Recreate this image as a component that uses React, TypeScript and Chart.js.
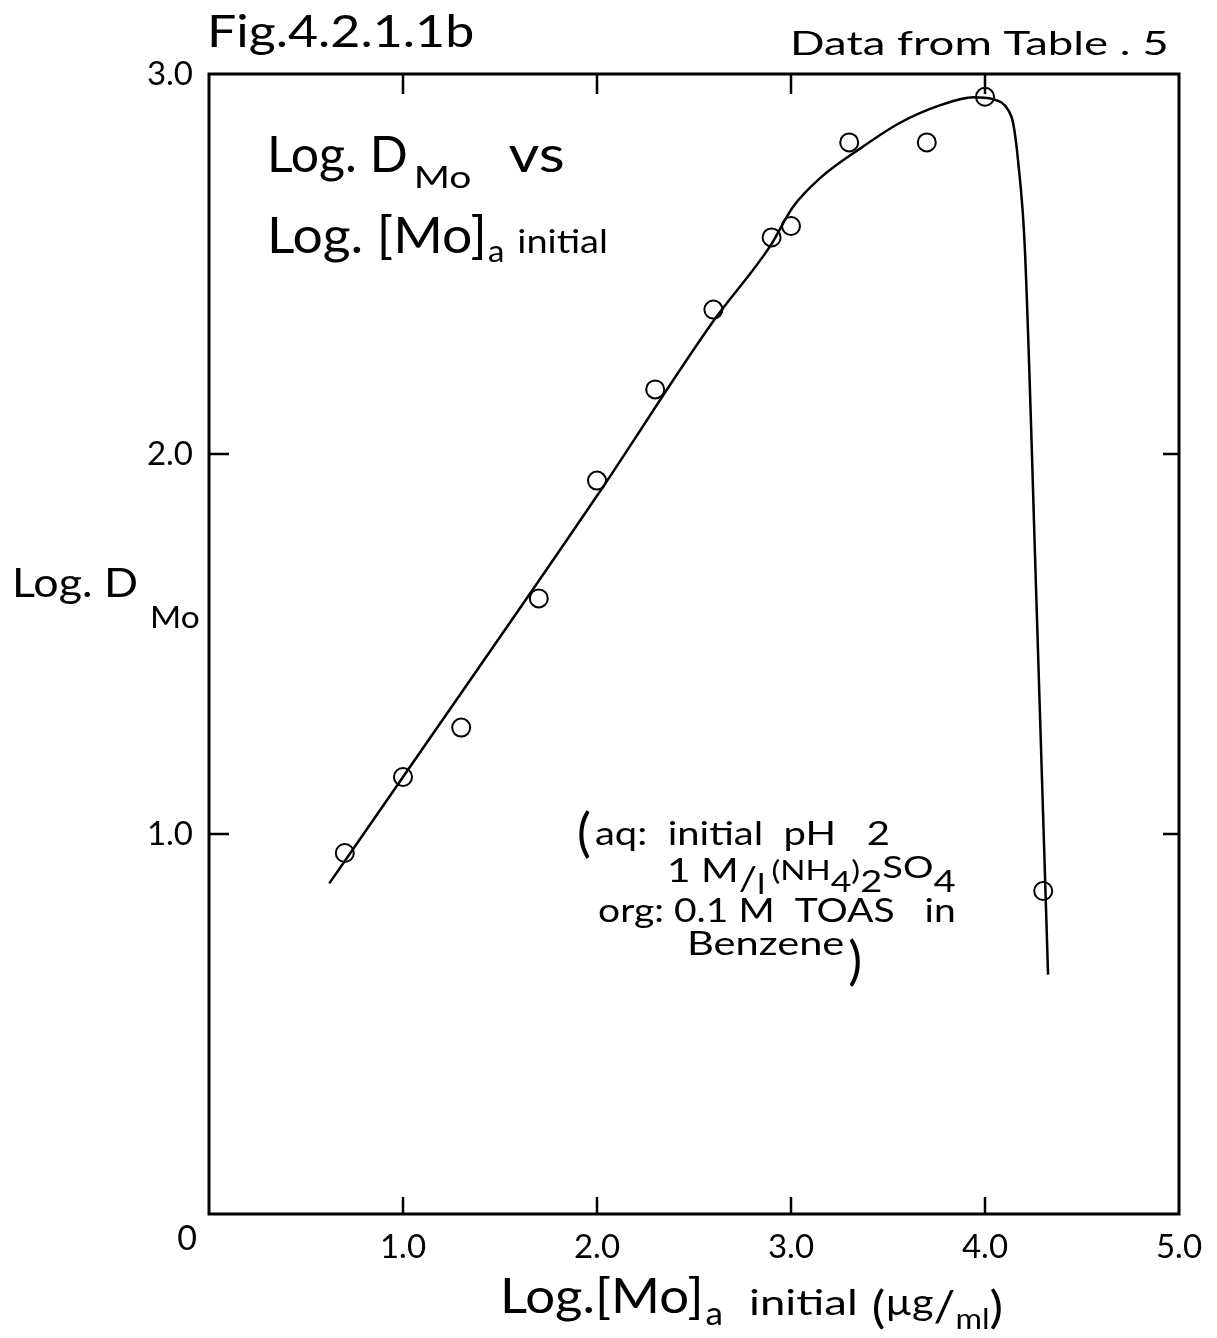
import { useEffect, useRef } from 'react';
import { Chart, registerables } from 'chart.js';

Chart.register(...registerables);

// Measured points (open circles)
const measuredX = [0.7, 1.0, 1.3, 1.7, 2.0, 2.3, 2.6, 2.9, 3.0, 3.3, 3.7, 4.0, 4.3];
const measuredY = [0.95, 1.15, 1.28, 1.62, 1.93, 2.17, 2.38, 2.57, 2.6, 2.82, 2.82, 2.94, 0.85];

// Hand-drawn fitted curve
const curveX = [0.62, 1.0, 2.0, 2.6, 2.89, 3.01, 3.15, 3.36, 3.56, 3.77, 3.94, 4.04, 4.12, 4.145, 4.17, 4.205, 4.265, 4.325];
const curveY = [0.87, 1.15, 1.89, 2.35, 2.545, 2.65, 2.726, 2.805, 2.871, 2.918, 2.939, 2.934, 2.905, 2.871, 2.774, 2.545, 1.616, 0.63];

const xTicks = [0, 1, 2, 3, 4, 5];
const xTickLabels = ['0', '1.0', '2.0', '3.0', '4.0', '5.0'];
const yTicks = [0, 1, 2, 3];
const yTickLabels = ['0', '1.0', '2.0', '3.0'];

const FONT = 'Lato, "DejaVu Sans", sans-serif';

type Run = { t: string; size: number; dy?: number; dx?: number; sx?: number };

function drawRuns(ctx: CanvasRenderingContext2D, x: number, y: number, runs: Run[], sxAll = 1) {
  let cx = x;
  for (const r of runs) {
    const sx = r.sx ?? sxAll;
    ctx.font = `${r.size}px ${FONT}`;
    cx += r.dx || 0;
    ctx.save();
    ctx.translate(cx, y + (r.dy || 0));
    ctx.scale(sx, 1);
    ctx.fillText(r.t, 0, 0);
    ctx.restore();
    cx += ctx.measureText(r.t).width * sx;
  }
}

const framePlugin = {
  id: 'framePlugin',
  afterDraw(chart: any) {
    const { ctx, chartArea } = chart;
    const { left, right, top, bottom } = chartArea;
    const xs = chart.scales.x;
    const ys = chart.scales.y;
    ctx.save();
    ctx.strokeStyle = '#000';
    ctx.fillStyle = '#000';
    ctx.lineWidth = 3;
    ctx.strokeRect(left, top, right - left, bottom - top);
    ctx.lineWidth = 2.5;
    ctx.beginPath();
    for (const v of xTicks) {
      if (v === xTicks[0] || v === xTicks[xTicks.length - 1]) continue;
      const px = xs.getPixelForValue(v);
      ctx.moveTo(px, bottom);
      ctx.lineTo(px, bottom - 17);
      ctx.moveTo(px, top);
      ctx.lineTo(px, top + 20);
    }
    for (const v of yTicks) {
      if (v === yTicks[0] || v === yTicks[yTicks.length - 1]) continue;
      const py = ys.getPixelForValue(v);
      ctx.moveTo(left, py);
      ctx.lineTo(left + 20, py);
      ctx.moveTo(right, py);
      ctx.lineTo(right - 16, py);
    }
    ctx.stroke();

    ctx.textBaseline = 'alphabetic';
    ctx.textAlign = 'center';
    ctx.font = `34px ${FONT}`;
    ctx.fillText(xTickLabels[0], xs.getPixelForValue(0) - 22, bottom + 36);

    ctx.textAlign = 'left';
    // Figure number
    drawRuns(ctx, 207, 47, [{ t: 'Fig.4.2.1.1b', size: 44 }], 1.18);
    // Source note
    drawRuns(ctx, 790, 55, [{ t: 'Data from Table . 5', size: 33 }], 1.38);

    // Inner title
    drawRuns(ctx, 267, 172, [
      { t: 'Log. D', size: 50, sx: 1.0 },
      { t: 'Mo', size: 30, dy: 16, dx: 6, sx: 1.3 },
      { t: 'vs', size: 50, dx: 37, sx: 1.2 },
    ]);
    drawRuns(ctx, 267, 253, [
      { t: 'Log. [Mo]', size: 50, sx: 1.07 },
      { t: 'a', size: 30, dy: 9, dx: 1, sx: 1.1 },
      { t: 'initial', size: 33, dx: 13, sx: 1.15 },
    ]);

    // Y axis title
    drawRuns(ctx, 12, 597, [
      { t: 'Log. D', size: 40 },
      { t: 'Mo', size: 30, dy: 31, dx: 12 },
    ], 1.12);

    // X axis title
    drawRuns(ctx, 500, 1313, [
      { t: 'Log.[Mo]', size: 48, sx: 1.1 },
      { t: 'a', size: 32, dy: 12, dx: 2, sx: 1.1 },
      { t: 'initial', size: 35, dx: 26, dy: 2, sx: 1.3 },
      { t: '(', size: 44, dx: 14, dy: 10, sx: 1.15 },
      { t: 'µg', size: 36, dy: 2, sx: 1.15 },
      { t: '/', size: 42, dy: 8, sx: 1.15 },
      { t: 'ml', size: 28, dy: 16, sx: 1.15 },
      { t: ')', size: 44, dy: 10, sx: 1.15 },
    ]);

    // Conditions note
    drawRuns(ctx, 577, 845, [
      { t: '(', size: 52, dy: 6, sx: 1.0 },
      { t: 'aq:  initial  pH   2', size: 32, dx: 4, sx: 1.25 },
    ]);
    drawRuns(ctx, 667, 882, [
      { t: '1 M', size: 32 },
      { t: '/', size: 32, dy: 8 },
      { t: 'l', size: 28, dy: 12 },
      { t: '(NH', size: 26, dx: 6, dy: -2 },
      { t: '4', size: 28, dy: 10 },
      { t: ')', size: 26, dy: -2 },
      { t: '2', size: 30, dy: 10 },
      { t: 'SO', size: 30, dy: -4 },
      { t: '4', size: 30, dy: 10 },
    ], 1.27);
    drawRuns(ctx, 598, 922, [{ t: 'org: 0.1 M  TOAS   in', size: 32 }], 1.22);
    drawRuns(ctx, 687, 955, [
      { t: 'Benzene', size: 32, sx: 1.3 },
      { t: ')', size: 52, dx: 4, dy: 24, sx: 1.0 },
    ]);
    ctx.restore();
  },
};

export default function App() {
  const ref = useRef<HTMLCanvasElement | null>(null);
  useEffect(() => {
    if (!ref.current) return;
    const chart = new Chart(ref.current, {
      type: 'scatter',
      data: {
        datasets: [
          {
            label: 'Fitted curve',
            data: curveX.map((x, i) => ({ x, y: curveY[i] })),
            showLine: true,
            borderColor: '#000',
            borderWidth: 2.5,
            pointRadius: 0,
            cubicInterpolationMode: 'monotone',
            fill: false,
          } as any,
          {
            label: 'Measured',
            data: measuredX.map((x, i) => ({ x, y: measuredY[i] })),
            showLine: false,
            pointStyle: 'circle',
            pointRadius: 9,
            pointBorderWidth: 2,
            pointBorderColor: '#000',
            pointBackgroundColor: 'rgba(0,0,0,0)',
          } as any,
        ],
      },
      options: {
        animation: false,
        responsive: false,
        devicePixelRatio: 1,
        layout: { padding: { top: 74, right: 38, left: 0, bottom: 0 } },
        plugins: { legend: { display: false }, tooltip: { enabled: false }, title: { display: false } },
        scales: {
          x: {
            type: 'linear',
            min: 0,
            max: 5,
            afterBuildTicks: (s: any) => { s.ticks = xTicks.map((v) => ({ value: v })); },
            afterFit: (s: any) => { s.height = 124; },
            ticks: {
              autoSkip: false,
              maxRotation: 0,
              padding: 6,
              color: '#000',
              font: { family: FONT, size: 33 },
              callback: (v: any) => { const i = xTicks.indexOf(Number(v)); return i > 0 ? xTickLabels[i] : ''; },
            },
            grid: { display: false },
            border: { display: false },
          },
          y: {
            type: 'linear',
            min: 0,
            max: 3,
            afterBuildTicks: (s: any) => { s.ticks = yTicks.map((v) => ({ value: v })); },
            afterFit: (s: any) => { s.width = 209; },
            ticks: {
              autoSkip: false,
              padding: 8,
              color: '#000',
              font: { family: FONT, size: 33 },
              callback: (v: any) => { const i = yTicks.indexOf(Number(v)); return i > 0 ? yTickLabels[i] : ''; },
            },
            grid: { display: false },
            border: { display: false },
          },
        },
      } as any,
      plugins: [framePlugin],
    });
    return () => chart.destroy();
  }, []);
  return (
    <div style={{ position: 'absolute', left: 0, top: 0, width: 1217, height: 1338, background: '#fff' }}>
      <canvas ref={ref} width={1217} height={1338} />
    </div>
  );
}
